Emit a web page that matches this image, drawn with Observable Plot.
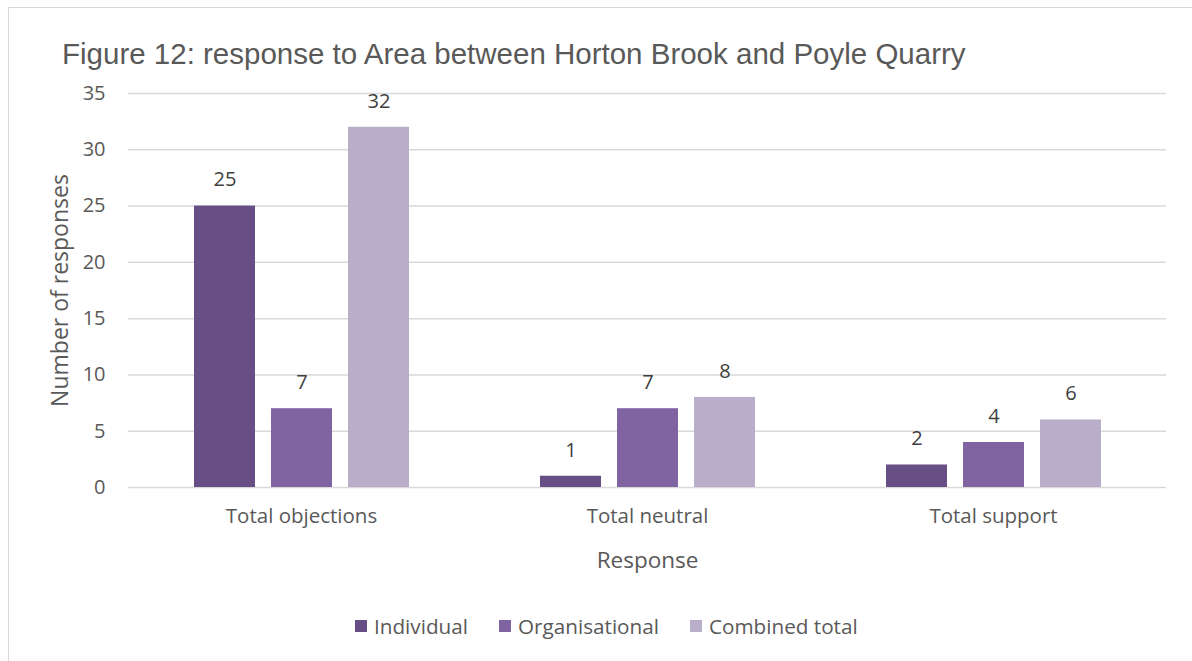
<!DOCTYPE html>
<html><head><meta charset="utf-8">
<script src="https://cdn.jsdelivr.net/npm/d3@7"></script>
<script src="https://cdn.jsdelivr.net/npm/@observablehq/plot@0.6"></script>
<style>
html,body{margin:0;padding:0;background:#fff;}
#wrap{position:relative;width:1192px;height:661px;overflow:hidden;}
#frame{position:absolute;left:8px;top:7px;width:1300px;height:800px;border-left:1.5px solid #d9d9d9;border-top:1.5px solid #d9d9d9;}
#title{position:absolute;left:62px;top:37px;font-family:"Liberation Sans",Arial,sans-serif;font-size:29.5px;color:#595959;white-space:nowrap;}
#chart{position:absolute;left:0;top:70px;}
#legend{position:absolute;left:355px;top:612px;display:flex;gap:31px;font-family:"Open Sans",sans-serif;font-size:20.7px;color:#595959;}
#legend .it{display:flex;align-items:center;gap:7px;}
#legend .sw{width:12px;height:12px;display:inline-block;}
</style></head>
<body><div id="wrap"><div id="frame"></div><div id="title">Figure 12: response to Area between Horton Brook and Poyle Quarry</div><div id="chart"></div><div id="legend"></div></div>
<script>
const categories = ["Total objections", "Total neutral", "Total support"];
const seriesNames = ["Individual", "Organisational", "Combined total"];
const individual = [25, 1, 2];
const organisational = [7, 7, 4];
const combined = [32, 8, 6];
const colors = ["#674F85", "#8064A2", "#B8AECA"];
const yTicks = [0, 5, 10, 15, 20, 25, 30, 35];

const seriesValues = [individual, organisational, combined];
const data = [];
categories.forEach((c, i) => seriesNames.forEach((s, j) => data.push({category: c, series: s, value: seriesValues[j][i]})));

const chart = Plot.plot({
  width: 1192,
  height: 530,
  marginTop: 23,
  marginLeft: 128,
  marginRight: 26,
  marginBottom: 113,
  style: {fontFamily: "'Open Sans', sans-serif", fontSize: "20px", color: "#595959", background: "transparent", overflow: "visible"},
  fx: {domain: categories, padding: 0},
  x: {domain: seriesNames, axis: null, paddingInner: 0.208, paddingOuter: 0.85},
  y: {domain: [0, 35], ticks: yTicks},
  color: {domain: seriesNames, range: colors},
  marks: [
    Plot.ruleY(yTicks, {stroke: "#d9d9d9", strokeWidth: 1.5}),
    Plot.barY(data, {fx: "category", x: "series", y: "value", fill: "series"}),
    Plot.text(data, {fx: "category", x: "series", y: "value", text: d => String(d.value), dy: -26, fill: "#404040", fontSize: 20}),
    Plot.axisY({ticks: yTicks, tickSize: 0, tickPadding: 23, label: null, fontSize: 20}),
    Plot.axisFx({anchor: "bottom", tickSize: 0, tickPadding: 21, label: null, fontSize: 20.5}),
    Plot.text(["Number of responses"], {frameAnchor: "left", dx: -68, rotate: -90, textAnchor: "middle", fontSize: 23, fill: "#595959", facet: "super"}),
    Plot.text(["Response"], {frameAnchor: "bottom", dy: 80, fontSize: 22.5, fill: "#595959", facet: "super"})
  ]
});
document.getElementById("chart").appendChild(chart);

const leg = document.getElementById("legend");
seriesNames.forEach((s, i) => {
  const it = document.createElement("div"); it.className = "it";
  const sw = document.createElement("span"); sw.className = "sw"; sw.style.background = colors[i];
  const t = document.createElement("span"); t.textContent = s;
  it.appendChild(sw); it.appendChild(t); leg.appendChild(it);
});
</script></body></html>
